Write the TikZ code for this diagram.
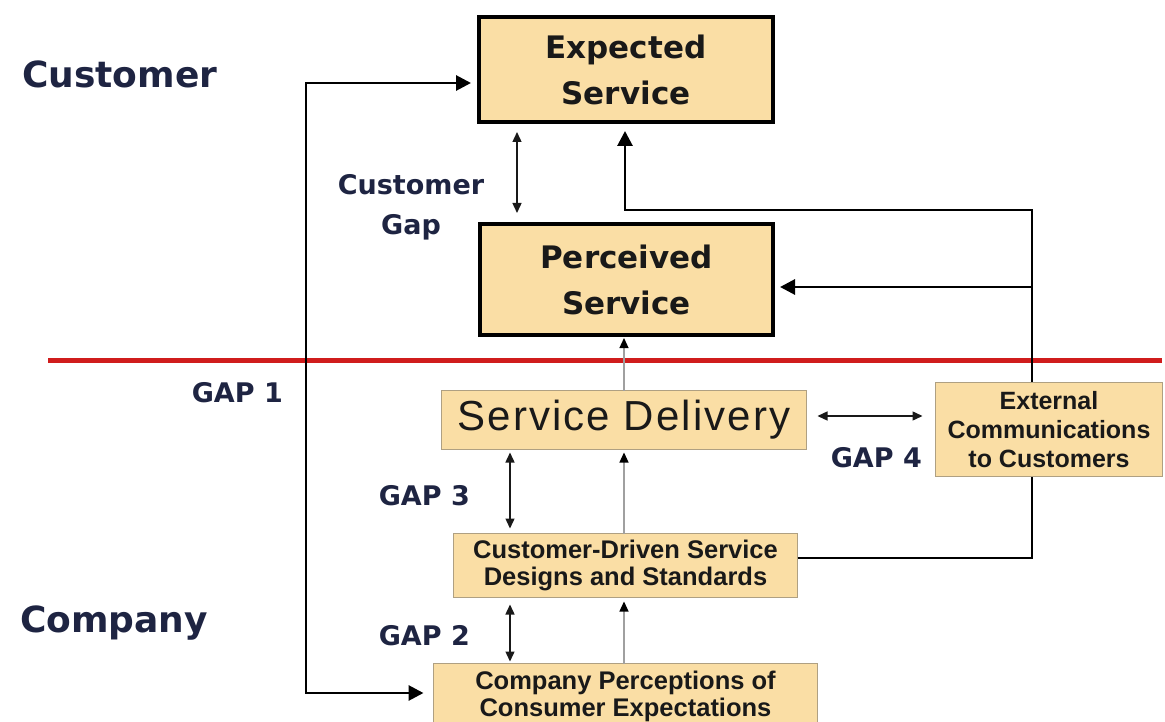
\documentclass[tikz,border=0pt]{standalone}
\usepackage{fontspec}
\usetikzlibrary{arrows.meta,calc}
\newfontfamily\labfont{DejaVu Sans}
\newfontfamily\arfont{Liberation Sans}
\newfontfamily\arwide[LetterSpace=5]{Liberation Sans}
\definecolor{boxfill}{RGB}{250,222,165}
\definecolor{boxline}{RGB}{175,160,130}
\definecolor{navy}{RGB}{30,36,66}
\definecolor{divider}{RGB}{208,28,28}
\definecolor{feedgray}{RGB}{160,160,160}
\definecolor{ink}{RGB}{25,25,25}

\tikzset{
  bigbox/.style={draw=black, line width=4.5pt, fill=boxfill, inner sep=0pt, outer sep=0pt,
    align=center, text=ink, font=\labfont\bfseries\fontsize{31}{46}\selectfont},
  smallbox/.style={draw=boxline, line width=1.4pt, fill=boxfill, inner sep=0pt, outer sep=0pt,
    align=center, text=ink, font=\arfont\bfseries\fontsize{25.5}{27}\selectfont},
  sidelabel/.style={text=navy, inner sep=0pt, font=\labfont\bfseries\fontsize{36}{40}\selectfont},
  gaplabel/.style={text=navy, inner sep=0pt, align=center, font=\labfont\bfseries\fontsize{27}{40}\selectfont},
  conn/.style={line width=2.9pt, draw=black},
  bigtip/.tip={Triangle[length=15pt,width=15pt]},
  smalltip/.tip={Triangle[length=10pt,width=9pt]},
  gapline/.style={line width=1.4pt, draw=ink, {smalltip}-{smalltip}},
  feed/.style={line width=1.2pt, draw=feedgray, -{smalltip[color=black]}},
}

\begin{document}
\begin{tikzpicture}[x=1pt,y=-1pt]
\useasboundingbox (0,0) rectangle (1165,722);

% customer / company divider
\draw[divider, line width=5pt] (48,360) -- (1162,360);

% side captions
\node[sidelabel, anchor=base west] (custlab) at (22,88) {Customer};
\node[sidelabel, anchor=base west] (complab) at (20,632) {Company};

% customer-side boxes
\node[bigbox, minimum width=294pt, minimum height=105pt] (exp) at (626,69.5) {Expected\\Service};
\node[bigbox, minimum width=293pt, minimum height=111pt] (perc) at (626.5,279.5) {Perceived\\Service};

% company-side boxes
\node[smallbox, minimum width=365pt, minimum height=59pt,
      font=\arwide\fontsize{42}{46}\selectfont] (sd) at (624,420) {Service Delivery};
\node[smallbox, minimum width=344pt, minimum height=64pt] (cds) at (625.5,565.5)
  {Customer-Driven Service\\Designs and Standards};
\node[smallbox, minimum width=384pt, minimum height=66pt] (comp) at (625.5,696.5)
  {Company Perceptions of\\Consumer Expectations};

% GAP 1 loop between expected service and company perceptions
\coordinate (lt) at (306,83);
\coordinate (lb) at (306,693);
\draw[conn, {bigtip}-{bigtip}, shorten <=8pt, shorten >=10pt]
  (exp.west |- lt) -- (lt) -- (lb) -- (comp.west |- lb);

% external communications feeding back to the customer
\coordinate (rb) at (1032,558);
\coordinate (rt) at (1032,210);
\coordinate (rm) at (1032,287);
\coordinate (ru) at (625,210);
\draw[conn, -{bigtip}, shorten >=9pt]
  (cds.east |- rb) -- (rb) -- (rt) -- (ru) -- (exp.south -| ru);
\draw[conn, -{bigtip}, shorten >=7pt] (rm) -- (perc.east |- rm);

\node[smallbox, minimum width=227pt, minimum height=94pt,
      font=\arfont\bfseries\fontsize{25}{29}\selectfont] (ext) at (1049,429.5)
  {External\\Communications\\to Customers};

% upward flow through the company
\coordinate (fx) at (624,0);
\draw[feed, shorten >=4pt] (comp.north -| fx) -- (cds.south -| fx);
\draw[feed, shorten >=3pt] (cds.north -| fx) -- (sd.south -| fx);
\draw[feed, shorten >=3pt] (sd.north -| fx) -- (perc.south -| fx);

% gap arrows
\coordinate (cg) at (517,0);
\coordinate (gx) at (510,0);
\draw[gapline, shorten <=10pt, shorten >=11pt] (exp.south -| cg) -- (perc.north -| cg);
\draw[gapline, shorten <=3pt, shorten >=5pt] (sd.south -| gx) -- (cds.north -| gx);
\draw[gapline, shorten <=7pt, shorten >=2pt] (cds.south -| gx) -- (comp.north -| gx);
\coordinate (g4) at (0,416);
\draw[gapline, shorten <=11pt, shorten >=13pt] (sd.east |- g4) -- (ext.west |- g4);

% gap captions
\node[gaplabel] (cgap) at (411,207) {Customer\\Gap};
\node[gaplabel, anchor=base east] (gap1) at (283,402) {GAP 1};
\node[gaplabel, anchor=base east] (gap3) at (470,505) {GAP 3};
\node[gaplabel, anchor=base east] (gap2) at (470,645) {GAP 2};
\node[gaplabel, anchor=base east] (gap4) at (922,467) {GAP 4};
\end{tikzpicture}
\end{document}
